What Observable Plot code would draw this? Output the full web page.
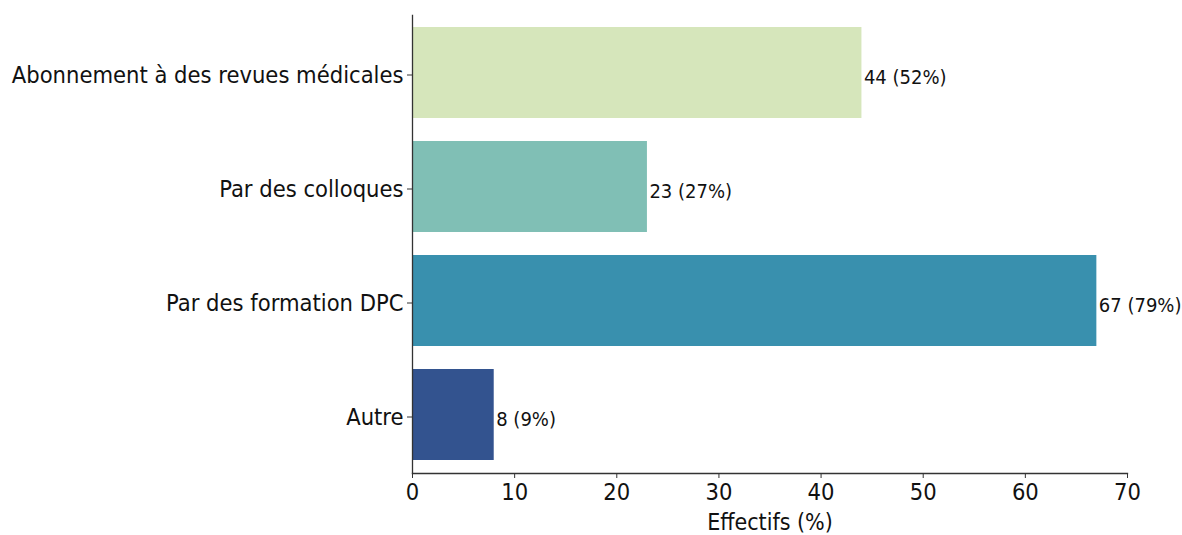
<!DOCTYPE html>
<html><head><meta charset="utf-8">
<script src="https://cdn.jsdelivr.net/npm/d3@7"></script>
<script src="https://cdn.jsdelivr.net/npm/@observablehq/plot@0.6"></script>
<style>
html,body{margin:0;padding:0;background:#fff;}
svg{font-family:"DejaVu Sans Condensed","DejaVu Sans",sans-serif;}
</style></head>
<body><div id="chart"></div>
<script>
const categories = ["Abonnement à des revues médicales","Par des colloques","Par des formation DPC","Autre"];
const counts = [44, 23, 67, 8];
const percents = [52, 27, 79, 9];
const colors = ["#d6e6bb","#80bfb5","#3990ae","#33538f"];
const xTicks = [0,10,20,30,40,50,60,70];

const data = categories.map((c,i)=>({cat:c, n:counts[i], p:percents[i], color:colors[i]}));

const chart = Plot.plot({
  width: 1182, height: 535,
  marginLeft: 412, marginRight: 55, marginTop: 15, marginBottom: 62,
  style: {fontFamily: '"DejaVu Sans Condensed","DejaVu Sans",sans-serif', background: "#fff"},
  x: {domain: [0,70], ticks: xTicks},
  y: {domain: categories, paddingInner: 0.2, paddingOuter: 0.1},
  marks: [
    Plot.barX(data, {y:"cat", x:"n", fill:"color"}),
    Plot.text(data, {y:"cat", x:"n", text:d=>`${d.n} (${d.p}%)`, textAnchor:"start", dx:2, dy:5, fontSize:20, fill:"#111"}),
    Plot.axisY({tickSize:5, tickPadding:4, fontSize:23.5, dy:2, label:null, stroke:"#333", fill:"#111"}),
    Plot.axisX({ticks:xTicks, tickSize:5, tickPadding:5, fontSize:23.5, label:null, stroke:"#333", fill:"#111"}),
    Plot.text(["Effectifs (%)"], {frameAnchor:"bottom", dy:56, fontSize:23, fill:"#111"}),
    Plot.frame({anchor:"left", stroke:"#333", strokeWidth:1.3}),
    Plot.frame({anchor:"bottom", stroke:"#333", strokeWidth:1.3})
  ]
});
document.getElementById("chart").append(chart);
</script></body></html>
